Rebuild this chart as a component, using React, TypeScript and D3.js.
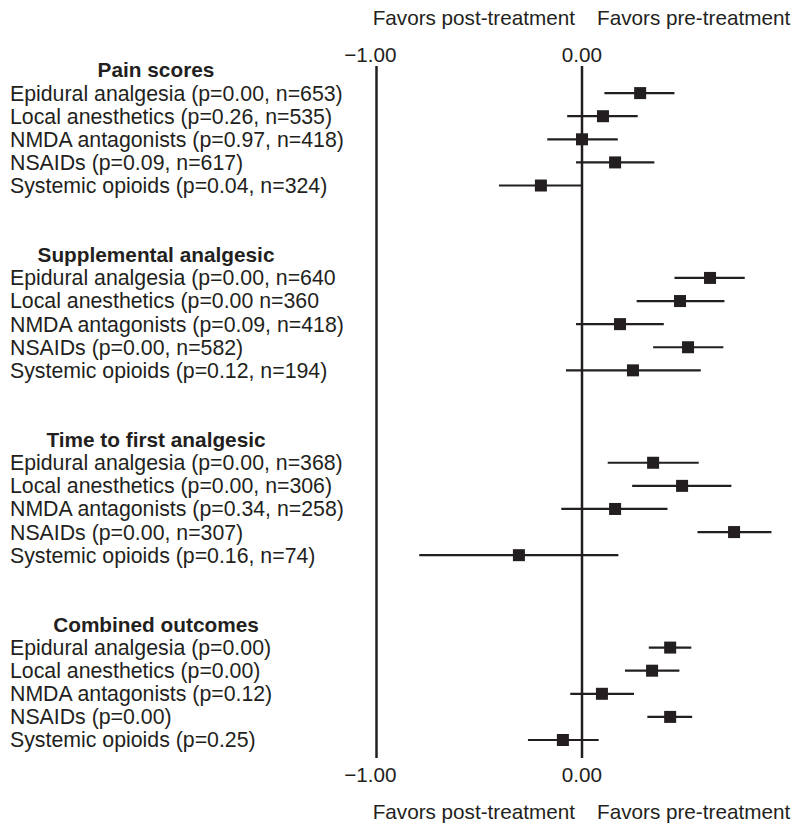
import React from 'react';
import * as d3 from 'd3';

// forest plot: pre- vs post-treatment analgesia, by outcome

const groups = ['Pain scores', 'Supplemental analgesic', 'Time to first analgesic', 'Combined outcomes'];

const labels = [
	[
		'Epidural analgesia (p=0.00, n=653)',
		'Local anesthetics (p=0.26, n=535)',
		'NMDA antagonists (p=0.97, n=418)',
		'NSAIDs (p=0.09, n=617)',
		'Systemic opioids (p=0.04, n=324)'
	],
	[
		'Epidural analgesia (p=0.00, n=640',
		'Local anesthetics (p=0.00 n=360',
		'NMDA antagonists (p=0.09, n=418)',
		'NSAIDs (p=0.00, n=582)',
		'Systemic opioids (p=0.12, n=194)'
	],
	[
		'Epidural analgesia (p=0.00, n=368)',
		'Local anesthetics (p=0.00, n=306)',
		'NMDA antagonists (p=0.34, n=258)',
		'NSAIDs (p=0.00, n=307)',
		'Systemic opioids (p=0.16, n=74)'
	],
	[
		'Epidural analgesia (p=0.00)',
		'Local anesthetics (p=0.00)',
		'NMDA antagonists (p=0.12)',
		'NSAIDs (p=0.00)',
		'Systemic opioids (p=0.25)'
	]
];

// effect size and 95% CI
const estimate = [
	[0.283, 0.102, 0.0, 0.161, -0.2],
	[0.623, 0.477, 0.185, 0.516, 0.248],
	[0.346, 0.487, 0.161, 0.74, -0.307],
	[0.429, 0.341, 0.097, 0.429, -0.093]
];
const lower = [
	[0.109, -0.072, -0.169, -0.029, -0.404],
	[0.45, 0.266, -0.029, 0.346, -0.078],
	[0.125, 0.244, -0.101, 0.562, -0.792],
	[0.325, 0.209, -0.057, 0.318, -0.263]
];
const upper = [
	[0.45, 0.271, 0.174, 0.352, 0.0],
	[0.792, 0.693, 0.398, 0.688, 0.578],
	[0.568, 0.727, 0.416, 0.922, 0.177],
	[0.532, 0.474, 0.253, 0.536, 0.081]
];

const ticks = [-1, 0];
const sideLabels = ['Favors post-treatment', 'Favors pre-treatment'];

const width = 798;
const height = 825;
const ink = '#231f20';
const font = '"Liberation Sans", Arial, Helvetica, sans-serif';

export default function App() {
	const x = d3.scaleLinear().domain([-1, 0]).range([376.5, 582]);
	// 8 slots per group: header, 5 rows, 2 blank
	const y = d3.scaleLinear().domain([0, 29]).range([70, 740]);
	const fmt = (v: number) => (v < 0 ? '\u2212' : '') + d3.format('.2f')(Math.abs(v));

	const rows = groups.flatMap((g, gi) =>
		labels[gi].map((label, i) => ({
			label,
			slot: gi * 8 + i + 1,
			est: estimate[gi][i],
			lo: lower[gi][i],
			hi: upper[gi][i]
		}))
	);

	const axisTop = 66;
	const axisBottom = 758;
	const box = 12;

	return (
		<svg
			width={width}
			height={height}
			style={{ position: 'absolute', left: 0, top: 0, background: '#fff' }}
			fontFamily={font}
			fill={ink}
		>
			{/* favours labels, top and bottom */}
			{[18, 812].map((ty) => (
				<g key={ty}>
					<text x={575} y={ty} dy="0.35em" fontSize={20.7} textAnchor="end">
						{sideLabels[0]}
					</text>
					<text x={597} y={ty} dy="0.35em" fontSize={20.7}>
						{sideLabels[1]}
					</text>
				</g>
			))}

			{/* axis lines with tick labels */}
			{ticks.map((t) => (
				<g key={t}>
					<line x1={x(t)} x2={x(t)} y1={axisTop} y2={axisBottom} stroke={ink} strokeWidth={2.5} />
					{[55, 775].map((ty) => (
						<text
							key={ty}
							x={t < 0 ? x(t) + 20 : x(t)}
							y={ty}
							dy="0.35em"
							fontSize={20.7}
							textAnchor={t < 0 ? 'end' : 'middle'}
						>
							{fmt(t)}
						</text>
					))}
				</g>
			))}

			{/* group headers */}
			{groups.map((g, gi) => (
				<text key={g} x={156} y={y(gi * 8)} dy="0.35em" fontSize={20.8} fontWeight="bold" textAnchor="middle">
					{g}
				</text>
			))}

			{/* rows */}
			{rows.map((r) => (
				<g key={r.slot}>
					<text x={10} y={y(r.slot)} dy="0.35em" fontSize={21.3}>
						{r.label}
					</text>
					<line x1={x(r.lo)} x2={x(r.hi)} y1={y(r.slot)} y2={y(r.slot)} stroke={ink} strokeWidth={2.2} />
					<rect x={x(r.est) - box / 2} y={y(r.slot) - box / 2} width={box} height={box} fill={ink} />
				</g>
			))}
		</svg>
	);
}
